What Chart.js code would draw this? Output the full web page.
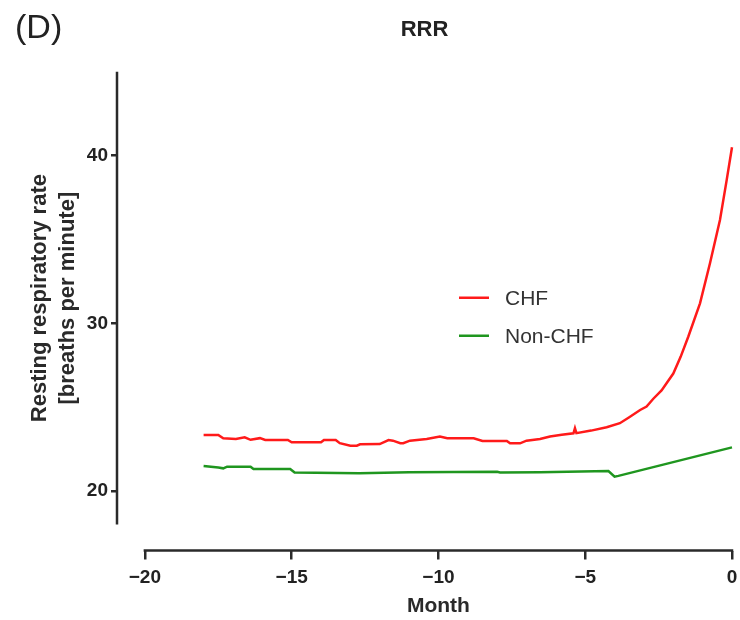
<!DOCTYPE html>
<html>
<head>
<meta charset="utf-8">
<script src="https://cdn.jsdelivr.net/npm/chart.js@4.4.1/dist/chart.umd.min.js"></script>
<style>
html,body{margin:0;padding:0;background:#fff;}
#wrap{width:740px;height:620px;position:relative;}
</style>
</head>
<body>
<div id="wrap"><canvas id="c"></canvas></div>
<script>
// ---- data ----
const chfMonth = [-18.0,-17.5,-17.33,-16.9,-16.6,-16.4,-16.08,-15.9,-15.13,-15.0,-14.0,-13.9,-13.5,-13.36,-13.0,-12.78,-12.67,-12.0,-11.7,-11.55,-11.3,-11.2,-10.97,-10.4,-9.95,-9.7,-8.8,-8.5,-7.67,-7.56,-7.22,-7.0,-6.54,-6.2,-5.8,-5.4,-5.35,-5.3,-4.8,-4.27,-3.82,-3.5,-3.13,-2.91,-2.68,-2.4,-2.0,-1.75,-1.49,-1.09,-0.75,-0.41,-0.18,0];
const chfRate = [23.34,23.34,23.14,23.1,23.2,23.05,23.15,23.04,23.04,22.9,22.9,23.04,23.04,22.85,22.7,22.7,22.78,22.8,23.04,23.0,22.85,22.85,23.0,23.1,23.24,23.14,23.14,22.98,22.98,22.84,22.84,23.0,23.1,23.25,23.35,23.44,23.74,23.45,23.6,23.8,24.04,24.4,24.83,25.03,25.5,26.0,27.0,28.0,29.2,31.19,33.58,36.16,38.55,40.5];
const nonChfMonth = [-18,-17.5,-17.33,-17.2,-16.4,-16.3,-15.05,-14.9,-12.7,-11,-8,-7.9,-6.54,-4.21,-4.0,-3.87,0];
const nonChfRate = [21.49,21.4,21.35,21.45,21.45,21.31,21.31,21.1,21.05,21.12,21.15,21.1,21.12,21.19,20.85,20.9,22.6];
const seriesLabels = ['CHF','Non-CHF'];
const xTicks = [-20,-15,-10,-5,0];
const yTicks = [20,30,40];
const xAxisRange = [-20,0];
const yAxisRange = [18,45];
const panelLabel = '(D)';
const chartTitle = 'RRR';
const xTitle = 'Month';
const yTitle = ['Resting respiratory rate','[breaths per minute]'];

// ---- styling ----
const FONT = "'Liberation Sans', Arial, Helvetica, sans-serif";
const INK = '#2a2a2a';
const RED = '#ff1a1a';
const GREEN = '#1f961f';

const toPoints = (xs, ys) => xs.map((m, i) => ({x: m, y: ys[i]}));
const fmt = v => (v < 0 ? '\u2212' + Math.abs(v) : String(v));

const prismDecor = {
  id: 'prismDecor',
  afterDraw(chart) {
    const {ctx, chartArea: a, scales: {x, y}} = chart;
    ctx.save();
    // detached axis lines
    ctx.strokeStyle = INK;
    ctx.lineWidth = 2.5;
    const yTop = y.getPixelForValue(yAxisRange[1]);
    const yBot = y.getPixelForValue(yAxisRange[0]);
    ctx.beginPath(); ctx.moveTo(a.left, yTop); ctx.lineTo(a.left, yBot); ctx.stroke();
    const xL = x.getPixelForValue(xAxisRange[0]);
    const xR = x.getPixelForValue(xAxisRange[1]);
    ctx.beginPath(); ctx.moveTo(xL - 1.25, a.bottom); ctx.lineTo(xR + 1.25, a.bottom); ctx.stroke();

    // axis titles centred on the visible axis lines
    ctx.fillStyle = INK;
    ctx.textAlign = 'center';
    ctx.textBaseline = 'middle';
    ctx.font = `bold 21px ${FONT}`;
    ctx.fillText(xTitle, (xL + xR) / 2, a.bottom + 56);
    ctx.font = `bold 22px ${FONT}`;
    ctx.save();
    ctx.translate(40, (yTop + yBot) / 2);
    ctx.rotate(-Math.PI / 2);
    yTitle.forEach((t, i) => ctx.fillText(t, 0, i * 28));
    ctx.restore();

    // panel label
    ctx.textAlign = 'left';
    ctx.font = `34px ${FONT}`;
    ctx.fillStyle = '#222';
    ctx.fillText(panelLabel, 15, 29);

    // legend inside plot
    const lx = a.left + 342, ly = a.top + 226, gap = 38;
    ctx.font = `21px ${FONT}`;
    ctx.fillStyle = '#333';
    chart.data.datasets.forEach((ds, i) => {
      const yy = ly + i * gap;
      ctx.strokeStyle = ds.borderColor;
      ctx.lineWidth = 2.5;
      ctx.beginPath(); ctx.moveTo(lx, yy); ctx.lineTo(lx + 30, yy); ctx.stroke();
      ctx.fillText(ds.label, lx + 46, yy + 1);
    });
    ctx.restore();
  }
};

new Chart(document.getElementById('c'), {
  type: 'line',
  data: {
    datasets: [
      {label: seriesLabels[0], data: toPoints(chfMonth, chfRate), borderColor: RED, borderWidth: 2.5, pointRadius: 0, tension: 0, fill: false, clip: false},
      {label: seriesLabels[1], data: toPoints(nonChfMonth, nonChfRate), borderColor: GREEN, borderWidth: 2.5, pointRadius: 0, tension: 0, fill: false, clip: false}
    ]
  },
  options: {
    responsive: true,
    maintainAspectRatio: false,
    animation: false,
    layout: {padding: {top: 0, left: 0, right: 8, bottom: 0}},
    plugins: {
      legend: {display: false},
      tooltip: {enabled: false},
      title: {
        display: true, text: chartTitle, fullSize: false, color: '#222',
        font: {family: FONT, size: 22, weight: 'bold'},
        padding: {top: 17, bottom: 28.35}
      }
    },
    scales: {
      x: {
        type: 'linear', min: -20.95, max: 0,
        border: {display: false},
        grid: {drawOnChartArea: false, drawTicks: true, tickLength: 9, color: INK, lineWidth: 2.5},
        ticks: {color: '#222', font: {family: FONT, size: 19, weight: 'bold'}, padding: 7, maxRotation: 0, autoSkip: false, callback: fmt},
        afterBuildTicks: s => { s.ticks = xTicks.map(v => ({value: v})); },
        afterFit: s => { s.height = 69.5; s.paddingLeft = 0; s.paddingRight = 0; }
      },
      y: {
        type: 'linear', min: 16.45, max: 45,
        border: {display: false},
        grid: {drawOnChartArea: false, drawTicks: true, tickLength: 6, color: INK, lineWidth: 2.5},
        ticks: {color: '#222', font: {family: FONT, size: 19, weight: 'bold'}, padding: 3, callback: fmt},
        afterBuildTicks: s => { s.ticks = yTicks.map(v => ({value: v})); },
        afterFit: s => { s.width = 117; s.paddingTop = 0; s.paddingBottom = 0; }
      }
    }
  },
  plugins: [prismDecor]
});
</script>
</body>
</html>
